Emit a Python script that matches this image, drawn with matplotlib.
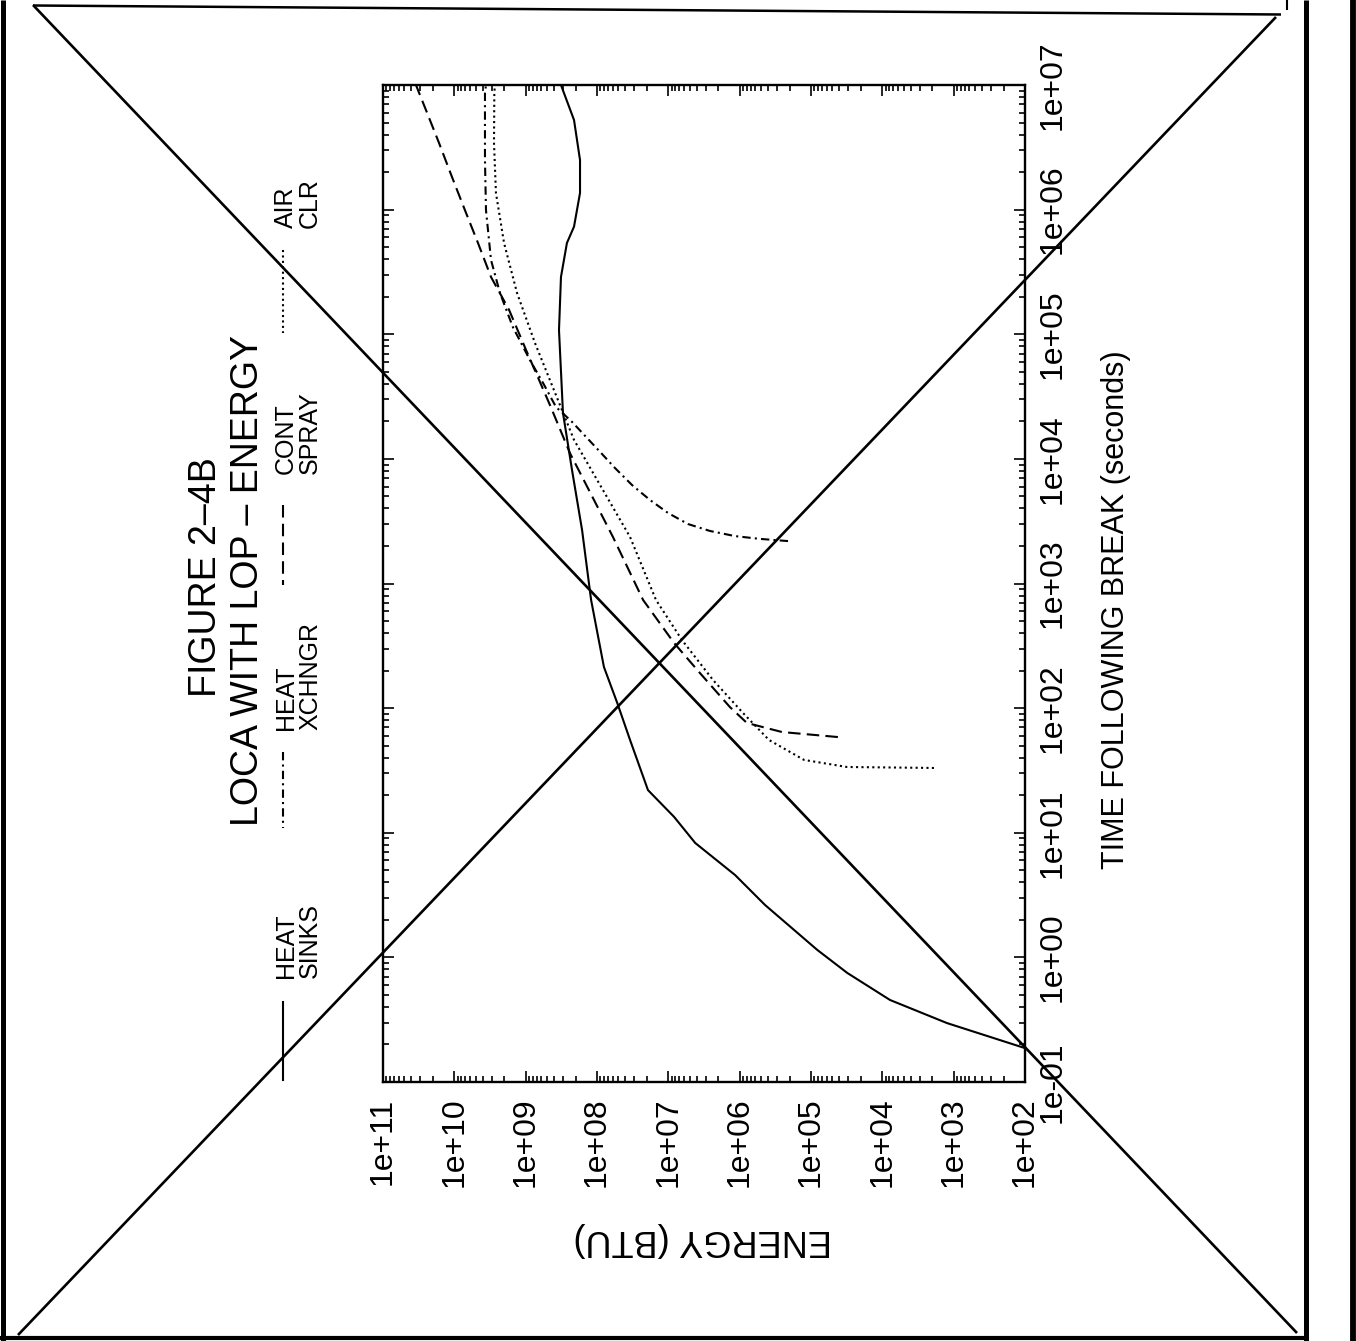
import matplotlib
matplotlib.use('Agg')
import matplotlib.pyplot as plt
from matplotlib.lines import Line2D
from matplotlib.ticker import LogLocator, FixedLocator, FuncFormatter, NullFormatter

plt.rcParams['font.family'] = ['Liberation Sans', 'DejaVu Sans']

W, H = 1356, 1341

# ---------------- data (time in s, energy in BTU) ----------------
sinks_time = [0.187, 0.297, 0.455, 0.75, 1.15, 2.63, 4.58, 8.28, 13.4, 22.0, 55.5, 110, 214,
              738, 2690, 8140, 2.34e4, 1.08e5, 2.88e5, 5.4e5, 7.3e5, 1.36e6, 2.5e6, 5.24e6, 1e7]
sinks_energy = [1.0e2, 1.24e3, 7.8e3, 3.1e4, 8.2e4, 4.4e5, 1.16e6, 4.2e6, 8.3e6, 1.93e7, 3.44e7,
                5.2e7, 8.0e7, 1.21e8, 1.62e8, 2.24e8, 3.0e8, 3.41e8, 3.2e8, 2.64e8, 2.1e8,
                1.73e8, 1.73e8, 2.1e8, 3.2e8]

hx_time = [2190, 2280, 2400, 2640, 3000, 3680, 4680, 6170, 8450, 1.14e4, 1.53e4, 1.98e4, 2.61e4,
           4.06e4, 6.2e4, 1.14e5, 2.14e5, 3.94e5, 9.9e5, 2.5e6, 8.6e6, 1e7]
hx_energy = [2.10e5, 5.19e5, 1.16e6, 2.61e6, 5.30e6, 1.01e7, 1.81e7, 3.23e7, 5.60e7, 9.08e7,
             1.47e8, 2.24e8, 3.76e8, 5.7e8, 8.7e8, 1.51e9, 2.29e9, 3.06e9, 3.6e9, 3.72e9,
             3.72e9, 3.6e9]

spray_time = [58.6, 64.3, 76, 102, 191, 333, 738, 2360, 1.11e4, 2.7e4, 7.5e4, 1.57e5, 2.88e5,
              5.4e5, 9.9e5, 1.83e6, 3.43e6, 6.3e6, 1e7]
spray_energy = [4.2e4, 2.55e5, 7.9e5, 1.37e6, 3.6e6, 8.3e6, 2.26e7, 5.97e7, 2.39e8, 4.56e8,
                9.9e8, 1.71e9, 3.06e9, 4.66e9, 7.1e9, 1.08e10, 1.64e10, 2.5e10, 3.45e10]

aircl_time = [33.1, 33.7, 38.4, 55.5, 91.4, 168, 352, 738, 2360, 1.42e4, 8.5e4, 2.14e5, 5.4e5,
              1.36e6, 3.43e6, 8.6e6, 1e7]
aircl_energy = [1.89e3, 3.13e4, 1.25e5, 3.88e5, 8.98e5, 2.36e6, 6.44e6, 1.49e7, 3.44e7, 2.1e8,
                7.4e8, 1.32e9, 2.01e9, 2.61e9, 2.78e9, 2.75e9, 2.7e9]

energy_ticks = [1e2, 1e3, 1e4, 1e5, 1e6, 1e7, 1e8, 1e9, 1e10, 1e11]
time_ticks = [1e-1, 1e0, 1e1, 1e2, 1e3, 1e4, 1e5, 1e6, 1e7]

series_names = ['HEAT\nSINKS', 'HEAT\nXCHNGR', 'CONT\nSPRAY', 'AIR\nCLR']
title_lines = ['FIGURE 2\u20134B', 'LOCA WITH LOP \u2013 ENERGY']
xlabel_text = 'TIME FOLLOWING BREAK (seconds)'
ylabel_text = 'ENERGY (BTU)'

# ---------------- styles ----------------
styles = {
    'sinks': dict(ls='-'),
    'hx': dict(ls=(0, (4, 2, 1, 2))),
    'spray': dict(ls=(0, (6, 3))),
    'aircl': dict(ls=(0, (1, 1.6))),
}
LW = 1.5

fig = plt.figure(figsize=(W / 100, H / 100), dpi=100)
fig.patch.set_facecolor('white')


def fx(px):
    return px / W


def fy(py):
    return 1 - py / H


# rotated chart: horizontal = energy (decreasing to the right), vertical = time
ax = fig.add_axes([fx(383), fy(1082), (1025 - 383) / W, (1082 - 85) / H])
ax.set_xscale('log')
ax.set_yscale('log')

ax.plot(sinks_energy, sinks_time, color='k', lw=LW, **styles['sinks'])
ax.plot(hx_energy, hx_time, color='k', lw=LW, **styles['hx'])
ax.plot(spray_energy, spray_time, color='k', lw=LW, **styles['spray'])
ax.plot(aircl_energy, aircl_time, color='k', lw=LW, **styles['aircl'])

ax.set_xlim(1e11, 1e2)
ax.set_ylim(1e-1, 1e7)

fmt = FuncFormatter(lambda v, p: '{:.0e}'.format(v))
ax.xaxis.set_major_locator(FixedLocator(energy_ticks))
ax.yaxis.set_major_locator(FixedLocator(time_ticks))
ax.xaxis.set_major_formatter(fmt)
ax.yaxis.set_major_formatter(fmt)
ax.xaxis.set_minor_locator(LogLocator(base=10, subs=range(2, 10), numticks=100))
ax.yaxis.set_minor_locator(LogLocator(base=10, subs=range(2, 10), numticks=100))
ax.xaxis.set_minor_formatter(NullFormatter())
ax.yaxis.set_minor_formatter(NullFormatter())

ax.tick_params(axis='both', which='both', direction='in', top=True, bottom=True,
               left=True, right=True, labelleft=False, labelright=True,
               labelbottom=True, labeltop=False, color='k', width=1.2)
ax.tick_params(axis='both', which='major', length=8)
ax.tick_params(axis='both', which='minor', length=4.5)
ax.tick_params(axis='x', which='major', labelsize=23, pad=11)
ax.tick_params(axis='y', which='major', labelsize=23, pad=9)
for lbl in ax.get_xticklabels():
    lbl.set_rotation(90)
    lbl.set_ha('center')
    lbl.set_va('top')
for lbl in ax.get_yticklabels():
    lbl.set_rotation(90)
    lbl.set_ha('left')
    lbl.set_va('center')
for s in ax.spines.values():
    s.set_linewidth(1.7)
    s.set_color('k')

# titles (rotated)
fig.text(fx(206), fy(577), title_lines[0], rotation=90, ha='center', va='center', fontsize=27)
fig.text(fx(248), fy(581), title_lines[1], rotation=90, ha='center', va='center', fontsize=27)

# axis labels
fig.text(fx(1116), fy(610), xlabel_text, rotation=90, ha='center', va='center', fontsize=22)
fig.text(fx(703), fy(1240), ylabel_text, rotation=180, ha='center', va='center', fontsize=26)

# legend (rotated)
leg_keys = ['sinks', 'hx', 'spray', 'aircl']
leg_line_y = [(1002, 1080), (752, 828), (505, 585), (250, 333)]
leg_label_bottom = [978, 730, 474, 228]
for key, (y0, y1), name, yb in zip(leg_keys, leg_line_y, series_names, leg_label_bottom):
    fig.add_artist(Line2D([fx(283), fx(283)], [fy(y0), fy(y1)], transform=fig.transFigure,
                          color='k', lw=LW, **styles[key]))
    fig.text(fx(298), fy(yb), name, rotation=90, ha='center', va='bottom', fontsize=18,
             linespacing=1.0, multialignment='left')

# page border and cross-out lines
def fline(x0, y0, x1, y1, lw):
    fig.add_artist(Line2D([fx(x0), fx(x1)], [fy(y0), fy(y1)], transform=fig.transFigure,
                          color='k', lw=lw, solid_capstyle='butt'))

fline(3, 0, 3, H, 3.6)          # left border
fline(33, 5.5, 1281, 14.5, 1.8)  # top border
fline(1287, 0, 1287, 10, 1.5)
fline(1306, 0, 1306, H, 3.6)     # right border lines
fline(1353, 0, 1353, H, 4.2)
fline(0, 1338, 1306, 1338, 3.0)  # bottom border
fline(33, 5, 1297, 1333, 1.9)    # cross-out diagonals
fline(18, 1335, 1276, 17, 1.9)

fig.savefig('out.png', dpi=100, facecolor='white')
